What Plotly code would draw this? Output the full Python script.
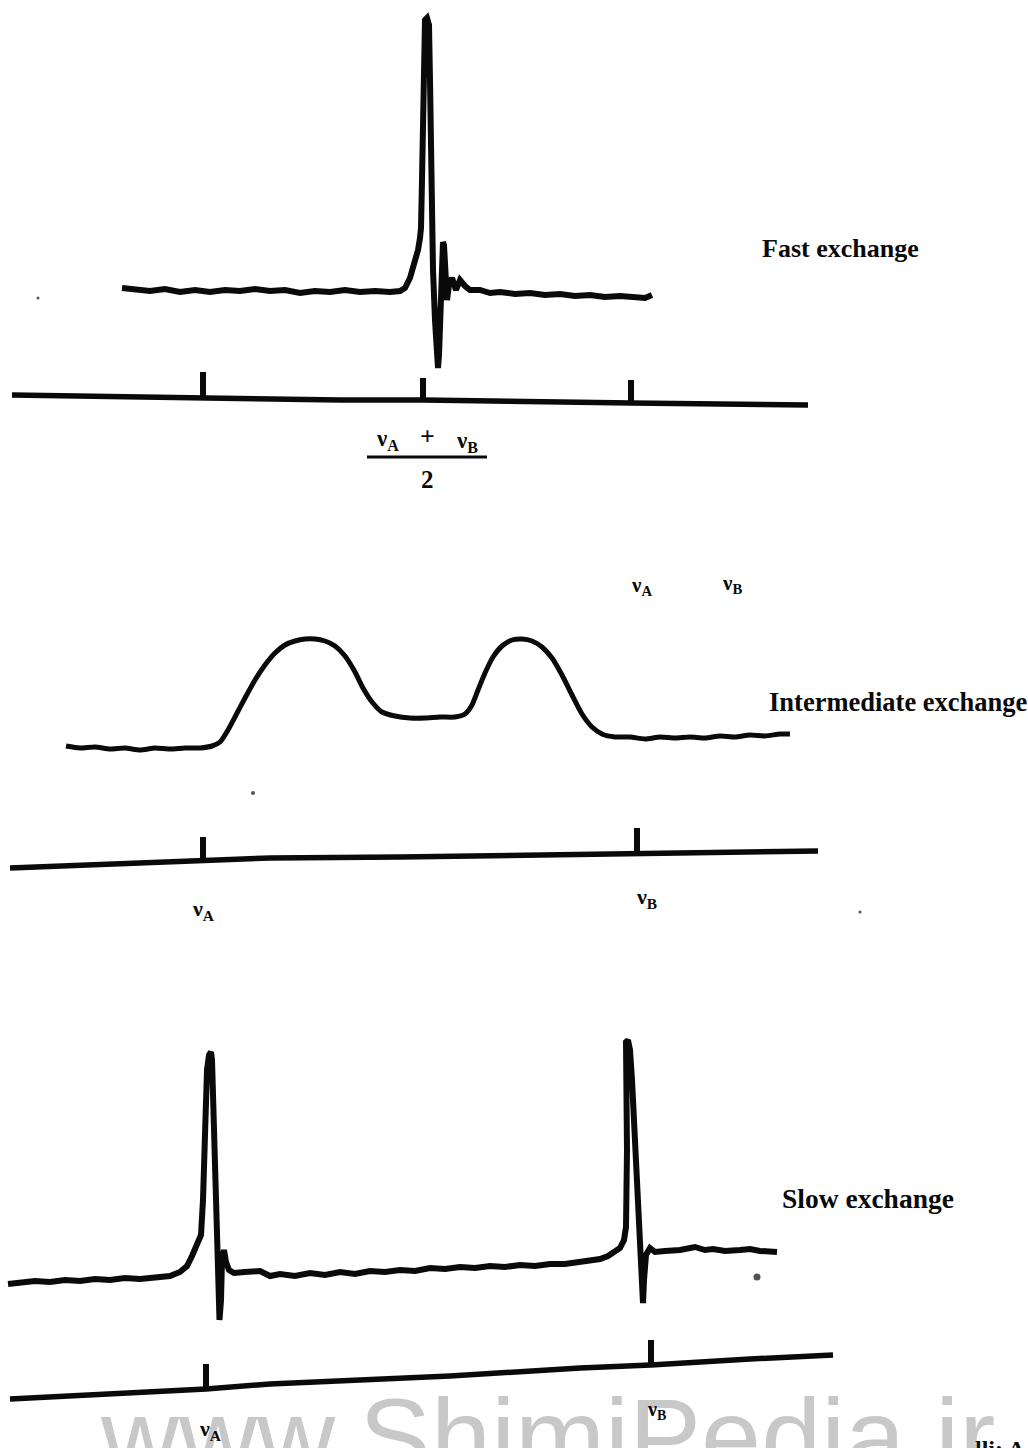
import plotly.graph_objects as go

# ---- data (page units: x to the right, y downward) ----
fast_x = [122,135,150,165,180,195,210,225,240,255,270,285,300,315,330,345,360,375,390,400,405,410,414,418,420,421,422,423,424,425,427,429,430,431,432,433,435,437,438,439,440,441,442,443,444,445,447,449,452,456,460,465,470,480,490,500,515,530,545,560,575,590,605,620,635,645,652]
fast_y = [288,290,291,289,292,290,292,290,291,289,291,290,293,291,292,290,292,291,292,291,288,278,265,250,238,228,180,100,40,20,18,25,80,150,220,270,320,360,368,355,320,285,260,242,245,275,300,285,278,290,280,286,290,290,293,292,294,293,295,294,296,295,297,296,298,298,295]

inter_x = [66,80,95,110,125,140,155,170,185,200,212,220,228,236,245,255,265,275,285,295,305,315,325,335,345,355,363,372,382,395,410,425,440,455,465,472,478,485,493,502,512,522,532,542,552,562,572,582,592,602,615,630,645,660,675,690,705,720,735,750,765,780,790]
inter_y = [746,748,747,749,748,750,748,749,748,748,746,742,730,715,698,680,665,653,645,641,639,639,641,646,656,672,688,702,712,716,718,718,717,717,714,705,690,673,657,646,640,639,641,647,658,675,695,714,727,734,737,737,739,737,738,737,738,736,737,735,736,734,734]

slow_x = [8,20,35,50,65,80,95,110,125,140,155,170,180,187,192,195,198,201,203,204,206,207,209,211,212,213,214,216,217,218,219,219.5,221,222,224,226,229,234,245,260,270,280,295,310,325,340,355,370,385,400,415,430,445,460,475,490,505,520,535,550,565,580,590,600,608,614,620,624,626,627,626,625,626,628,630,632,634,636,638,640,641,642,643,644,646,650,655,665,680,695,705,713,725,740,750,760,777]
slow_y = [1284,1283,1281,1282,1280,1281,1279,1280,1278,1279,1277,1276,1272,1266,1256,1248,1243,1235,1200,1150,1100,1070,1055,1052,1060,1100,1150,1200,1240,1270,1300,1320,1300,1260,1250,1262,1270,1273,1272,1271,1276,1274,1276,1273,1275,1272,1274,1271,1272,1270,1271,1268,1269,1267,1268,1266,1267,1265,1266,1264,1264,1262,1261,1259,1256,1252,1248,1240,1227,1150,1100,1060,1042,1040,1050,1080,1120,1170,1210,1240,1270,1300,1303,1280,1255,1248,1252,1251,1250,1247,1250,1249,1251,1250,1249,1251,1252]

axis1_x = [12,203,340,423,520,631,808]
axis1_y = [395,398,400,400,402,403,405]
ticks1_x = [203,423,631]
ticks1_top = [372,378,380]
ticks1_base = [398,400,403]

axis2_x = [10,150,203,270,400,637,818]
axis2_y = [868,863,861,858,857,853,851]
ticks2_x = [203,637]
ticks2_top = [837,828]
ticks2_base = [861,853]

axis3_x = [10,150,206,270,450,580,651,750,833]
axis3_y = [1399,1392,1389,1384,1376,1368,1365,1359,1355]
ticks3_x = [206,651]
ticks3_top = [1364,1340]
ticks3_base = [1389,1365]

frac_bar_x = [367,487]
frac_bar_y = [457,457]

speck_x = [38,253,860,757]
speck_y = [298,793,912,1277]
speck_size = [3,4,3,7]

fig = go.Figure()

def seg(xs, tops, bases):
    X, Y = [], []
    for x, t, b in zip(xs, tops, bases):
        X += [x, x, None]
        Y += [t, b, None]
    return X, Y

blk = "#0a0a0a"
fig.add_trace(go.Scatter(x=fast_x, y=fast_y, mode="lines", line=dict(color=blk, width=6)))
fig.add_trace(go.Scatter(x=inter_x, y=inter_y, mode="lines", line=dict(color=blk, width=5, shape="spline", smoothing=0.6)))
fig.add_trace(go.Scatter(x=slow_x, y=slow_y, mode="lines", line=dict(color=blk, width=6)))

for ax_x, ax_y, tx, tt, tb in [(axis1_x, axis1_y, ticks1_x, ticks1_top, ticks1_base),
                                (axis2_x, axis2_y, ticks2_x, ticks2_top, ticks2_base),
                                (axis3_x, axis3_y, ticks3_x, ticks3_top, ticks3_base)]:
    fig.add_trace(go.Scatter(x=ax_x, y=ax_y, mode="lines", line=dict(color=blk, width=5.5)))
    X, Y = seg(tx, tt, tb)
    fig.add_trace(go.Scatter(x=X, y=Y, mode="lines", line=dict(color=blk, width=6)))

fig.add_trace(go.Scatter(x=frac_bar_x, y=frac_bar_y, mode="lines", line=dict(color=blk, width=3)))
fig.add_trace(go.Scatter(x=speck_x, y=speck_y, mode="markers",
                         marker=dict(color=blk, size=speck_size, line=dict(width=0))))

serif = "Liberation Serif"
H = 1448.0
ann = []
# watermark (under labels); paper reference so it may run off the page bottom
ann.append(dict(x=98 / 1028, y=(H - 1436) / H, xref="paper", yref="paper",
                text="www.ShimiPedia.ir", xanchor="left", yanchor="middle",
                font=dict(family="Liberation Sans", size=108, color="#c8c8c8")))

def lab(x, y, t, size=22, anchor="center"):
    ann.append(dict(x=x, y=y, xref="x", yref="y", text="<b>" + t + "</b>", xanchor=anchor,
                    yanchor="middle", font=dict(family=serif, size=size, color=blk)))

lab(760, 248, "Fast exchange", 26, "left")
lab(767, 702, "Intermediate exchange", 26.5, "left")
lab(780, 1198, "Slow exchange", 27.5, "left")

lab(387, 440, "ν<sub>A</sub>", 23)
lab(427, 436, "+", 26)
lab(467, 442, "ν<sub>B</sub>", 23)
lab(427, 479, "2", 25)

lab(641, 586, "ν<sub>A</sub>", 21)
lab(732, 584, "ν<sub>B</sub>", 21)

lab(203, 910, "ν<sub>A</sub>", 22)
lab(646, 898, "ν<sub>B</sub>", 22)

lab(210, 1430, "ν<sub>A</sub>", 22)
lab(656, 1410, "ν<sub>B</sub>", 20)

ann.append(dict(x=1.0, y=(H - 1449) / H, xref="paper", yref="paper",
                text="<b>lli: A</b>", xanchor="right", yanchor="middle",
                font=dict(family=serif, size=24, color=blk)))

for a in ann:
    a.update(showarrow=False)

fig.update_layout(
    width=1028, height=1448,
    margin=dict(l=0, r=0, t=0, b=0),
    paper_bgcolor="white", plot_bgcolor="white",
    showlegend=False,
    annotations=ann,
    xaxis=dict(range=[0, 1028], visible=False, fixedrange=True),
    yaxis=dict(range=[1448, 0], visible=False, fixedrange=True),
)

fig.write_html("out.html", config={"displayModeBar": False, "staticPlot": True},
               post_script="document.body.style.margin='0';document.body.style.overflow='hidden';")
